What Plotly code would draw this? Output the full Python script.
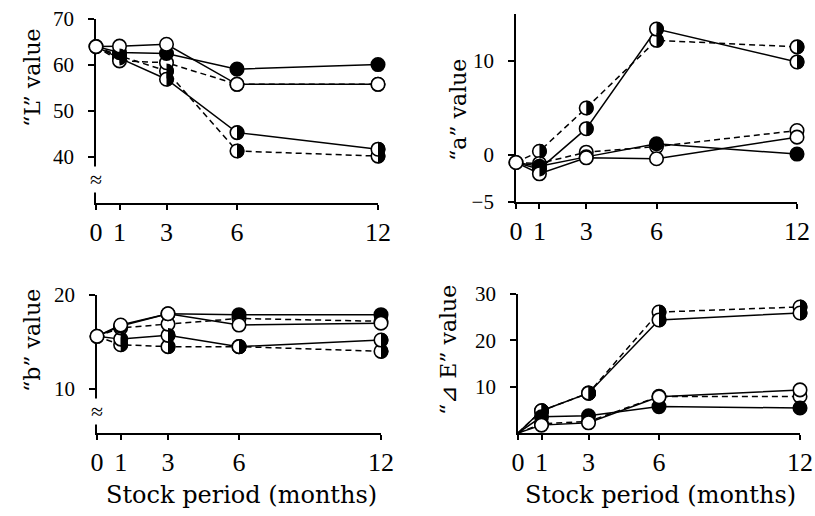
import plotly.graph_objects as go

W, H = 815, 516

months = [0, 1, 3, 6, 12]
x_ticks = [0, 1, 3, 6, 12]

# "L" value
L_open_solid = [64, 64.1, 64.5, 55.8, 55.8]
L_open_dash = [64, 60.9, 60.5, 55.8, 55.8]
L_filled = [64, 62.7, 62.5, 59.1, 60.1]
L_half_solid = [64, 61.5, 56.9, 45.3, 41.7]
L_half_dash = [64, 62.0, 58.7, 41.3, 40.2]

# "a" value
a_open_solid = [-0.8, -2.0, -0.3, -0.4, 1.9]
a_open_dash = [-0.8, -0.9, 0.3, 0.9, 2.6]
a_filled = [-0.8, -1.2, -0.2, 1.2, 0.1]
a_half_solid = [-0.8, -1.5, 2.8, 13.4, 9.9]
a_half_dash = [-0.8, 0.4, 5.0, 12.2, 11.5]

# "b" value
b_open_solid = [15.6, 16.8, 18.0, 16.8, 17.0]
b_open_dash = [15.6, 16.5, 16.9, 17.5, 17.2]
b_filled = [15.6, 16.7, 18.0, 17.9, 17.9]
b_half_solid = [15.6, 15.3, 15.7, 14.5, 15.2]
b_half_dash = [15.6, 14.7, 14.5, 14.5, 14.0]

# "ΔE" value
E_open_solid = [0, 1.7, 2.2, 7.8, 9.3]
E_open_dash = [0, 2.0, 2.5, 7.9, 7.9]
E_filled = [0, 3.5, 3.7, 5.7, 5.4]
E_half_solid = [0, 4.8, 8.6, 24.4, 25.9]
E_half_dash = [0, 4.8, 8.6, 26.1, 27.2]

panels = [
    dict(series=[L_half_dash, L_half_solid, L_open_dash, L_filled, L_open_solid],
         yr=[30, 70], yt=[40, 50, 60, 70], px=(96, 378, 19, 203), title="“L” value",
         tpos=(32, 78), brk=35, markers0=True),
    dict(series=[a_half_dash, a_half_solid, a_open_dash, a_filled, a_open_solid],
         yr=[-5, 15], yt=[-5, 0, 10], px=(516, 797, 14, 202), title="“a” value",
         tpos=(458, 110), brk=None, markers0=True),
    dict(series=[b_half_dash, b_half_solid, b_open_dash, b_filled, b_open_solid],
         yr=[5.3, 20], yt=[10, 20], px=(97, 381, 295, 433), title="“b” value",
         tpos=(32, 341), brk=7.6, markers0=True),
    dict(series=[E_half_dash, E_half_solid, E_open_dash, E_filled, E_open_solid],
         yr=[0, 30], yt=[10, 20, 30], px=(518, 800, 294, 433), title="“⊿ E” value",
         tpos=(448, 350), brk=None, markers0=False),
]
styles = ["half", "half", "open", "filled", "open"]
dashes = ["dash", "solid", "dash", "solid", "solid"]

fig = go.Figure()
layout = {}
annotations = []
shapes = []
serif = "Liberation Serif"
tserif = "DejaVu Serif"
R = 7.4          # half-disk radius in px
K = 0.5523 * R   # bezier handle for quarter circle
half_path = (f"M0,{R} C{K},{R} {R},{K} {R},0 "
             f"C{R},{-K} {K},{-R} 0,{-R} Z")
PAD = 14         # px of extra room for the marker overlay axes

for i, p in enumerate(panels):
    k = "" if i == 0 else str(i + 1)
    ko = str(i + 5)
    xa, ya = "x" + k, "y" + k
    xo, yo = "x" + ko, "y" + ko
    x0, x1, yt_, yb_ = p["px"]
    layout["xaxis" + k] = dict(
        domain=[x0 / W, x1 / W], range=[0, 12], anchor=ya,
        tickvals=x_ticks, ticktext=[str(t) for t in x_ticks],
        showline=True, linecolor="black", linewidth=1.8, ticks="outside",
        ticklen=5, tickwidth=1.6, tickcolor="black", showgrid=False, zeroline=False,
        tickfont=dict(family=serif, size=26, color="black"), ticklabelstandoff=0,
        automargin=False,
    )
    layout["yaxis" + k] = dict(
        domain=[(H - yb_) / H, (H - yt_) / H], range=p["yr"], anchor=xa,
        tickvals=p["yt"], showline=True, linecolor="black", linewidth=1.8,
        ticks="outside", ticklen=6, tickwidth=1.6, tickcolor="black",
        showgrid=False, zeroline=False,
        tickfont=dict(family=serif, size=21, color="black"), ticklabelstandoff=10,
        automargin=False,
    )
    # hidden overlay axes with the same scale, slightly larger, so markers are not clipped
    dx = PAD * 12 / (x1 - x0)
    dy = PAD * (p["yr"][1] - p["yr"][0]) / (yb_ - yt_)
    layout["xaxis" + ko] = dict(
        domain=[(x0 - PAD) / W, (x1 + PAD) / W], range=[-dx, 12 + dx],
        anchor=yo, visible=False, showgrid=False, zeroline=False)
    layout["yaxis" + ko] = dict(
        domain=[(H - yb_ - PAD) / H, (H - yt_ + PAD) / H],
        range=[p["yr"][0] - dy, p["yr"][1] + dy],
        anchor=xo, visible=False, showgrid=False, zeroline=False)

    for s, st, d in zip(p["series"], styles, dashes):
        fig.add_trace(go.Scatter(
            x=months, y=s, mode="lines", xaxis=xa, yaxis=ya,
            line=dict(color="black", width=1.5, dash="6px,4px" if d == "dash" else "solid"),
            showlegend=False, hoverinfo="skip"))
    for s, st in zip(p["series"], styles):
        show0 = p["markers0"] and st == "open"
        xs = months if show0 else months[1:]
        ys = s if show0 else s[1:]
        fill = "black" if st == "filled" else "white"
        fig.add_trace(go.Scatter(
            x=xs, y=ys, mode="markers", xaxis=xo, yaxis=yo, cliponaxis=False,
            marker=dict(symbol="circle", size=13.5, color=fill,
                        line=dict(color="black", width=1.6)),
            showlegend=False, hoverinfo="skip"))
        if st == "half":
            for xv, yv in zip(xs, ys):
                shapes.append(dict(
                    type="path", xref=xo, yref=yo, xsizemode="pixel", ysizemode="pixel",
                    xanchor=xv, yanchor=yv, path=half_path,
                    fillcolor="black", line=dict(width=0), layer="above"))
    annotations.append(dict(
        x=p["tpos"][0] / W, y=(H - p["tpos"][1]) / H, xref="paper", yref="paper",
        text=p["title"], textangle=-90, showarrow=False,
        font=dict(family=tserif, size=22, color="black"), xanchor="center", yanchor="middle"))
    if p["brk"] is not None:
        annotations.append(dict(
            x=0, y=p["brk"], xref=xa, yref=ya, text="≈", showarrow=False,
            font=dict(family=serif, size=22, color="black"), bgcolor="white",
            borderpad=0, xanchor="center", yanchor="middle"))

for cx in (241, 660):
    annotations.append(dict(
        x=cx / W, y=(H - 495) / H, xref="paper", yref="paper",
        text="Stock period (months)", showarrow=False,
        font=dict(family=tserif, size=24, color="black"), xanchor="center", yanchor="middle"))

fig.update_layout(
    width=W, height=H, margin=dict(l=0, r=0, t=0, b=0, pad=0),
    paper_bgcolor="white", plot_bgcolor="rgba(0,0,0,0)",
    annotations=annotations, shapes=shapes, **layout)

fig.write_html(
    "out.html",
    config={"displayModeBar": False},
    post_script="document.body.style.margin='0px';document.body.style.padding='0px';"
                "document.documentElement.style.overflow='hidden';",
)
